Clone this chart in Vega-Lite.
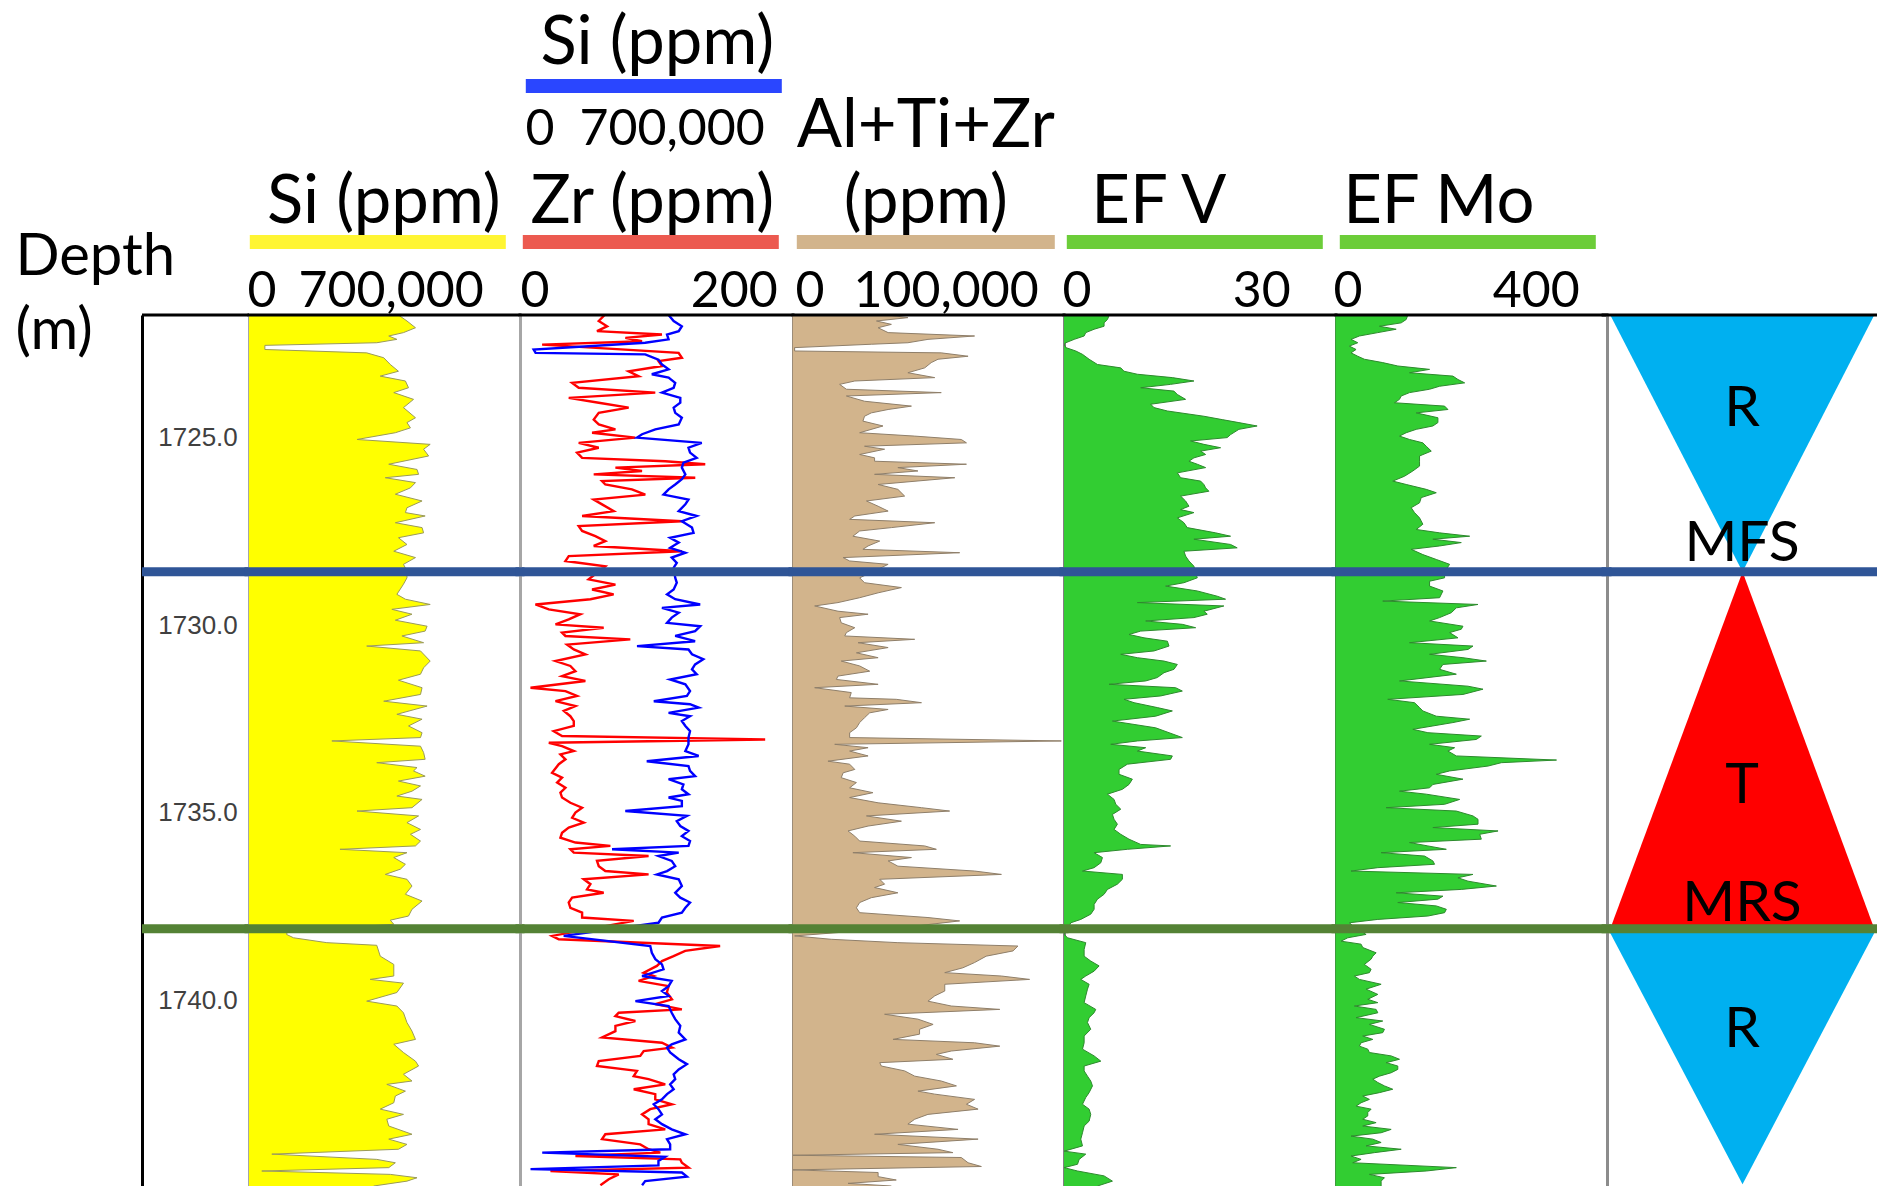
{
"$schema":"https://vega.github.io/schema/vega-lite/v6.json",
"padding":{"left":15,"top":9,"right":0,"bottom":0},
"background":"white",
"config":{"view":{"stroke":null},"font":"Lato","axis":{"labelLimit":0}},
"spacing":0,
"bounds":"flush",
"datasets":{
"si":[{"d":1721.72,"v":386000},{"d":1721.88,"v":408000},{"d":1722.06,"v":430000},{"d":1722.19,"v":399000},{"d":1722.28,"v":361000},{"d":1722.37,"v":382000},{"d":1722.46,"v":330000},{"d":1722.53,"v":41000},{"d":1722.64,"v":41000},{"d":1722.73,"v":304000},{"d":1722.86,"v":348000},{"d":1723.04,"v":365000},{"d":1723.22,"v":386000},{"d":1723.35,"v":339000},{"d":1723.48,"v":404000},{"d":1723.66,"v":412000},{"d":1723.79,"v":374000},{"d":1723.97,"v":425000},{"d":1724.19,"v":399000},{"d":1724.46,"v":430000},{"d":1724.59,"v":408000},{"d":1724.73,"v":417000},{"d":1724.86,"v":378000},{"d":1725.04,"v":279000},{"d":1725.17,"v":468000},{"d":1725.30,"v":451000},{"d":1725.48,"v":464000},{"d":1725.70,"v":361000},{"d":1725.84,"v":434000},{"d":1725.97,"v":438000},{"d":1726.06,"v":352000},{"d":1726.19,"v":430000},{"d":1726.33,"v":417000},{"d":1726.50,"v":378000},{"d":1726.68,"v":447000},{"d":1726.86,"v":408000},{"d":1726.99,"v":404000},{"d":1727.08,"v":455000},{"d":1727.26,"v":378000},{"d":1727.39,"v":447000},{"d":1727.53,"v":451000},{"d":1727.66,"v":386000},{"d":1727.84,"v":408000},{"d":1728.02,"v":374000},{"d":1728.19,"v":430000},{"d":1728.37,"v":399000},{"d":1728.55,"v":408000},{"d":1728.73,"v":408000},{"d":1728.90,"v":399000},{"d":1729.17,"v":382000},{"d":1729.30,"v":404000},{"d":1729.44,"v":468000},{"d":1729.57,"v":369000},{"d":1729.70,"v":421000},{"d":1729.86,"v":378000},{"d":1730.02,"v":460000},{"d":1730.15,"v":455000},{"d":1730.28,"v":395000},{"d":1730.46,"v":451000},{"d":1730.55,"v":304000},{"d":1730.68,"v":443000},{"d":1730.95,"v":468000},{"d":1731.13,"v":451000},{"d":1731.30,"v":443000},{"d":1731.46,"v":386000},{"d":1731.66,"v":447000},{"d":1731.84,"v":443000},{"d":1732.02,"v":348000},{"d":1732.15,"v":460000},{"d":1732.37,"v":382000},{"d":1732.50,"v":447000},{"d":1732.68,"v":412000},{"d":1732.86,"v":447000},{"d":1732.99,"v":443000},{"d":1733.08,"v":214000},{"d":1733.22,"v":443000},{"d":1733.39,"v":451000},{"d":1733.57,"v":455000},{"d":1733.66,"v":330000},{"d":1733.79,"v":434000},{"d":1733.88,"v":425000},{"d":1734.02,"v":455000},{"d":1734.15,"v":386000},{"d":1734.28,"v":443000},{"d":1734.42,"v":421000},{"d":1734.55,"v":382000},{"d":1734.64,"v":447000},{"d":1734.86,"v":421000},{"d":1734.95,"v":279000},{"d":1735.08,"v":438000},{"d":1735.26,"v":408000},{"d":1735.44,"v":443000},{"d":1735.57,"v":417000},{"d":1735.75,"v":443000},{"d":1735.88,"v":430000},{"d":1735.97,"v":235000},{"d":1736.06,"v":408000},{"d":1736.19,"v":374000},{"d":1736.37,"v":404000},{"d":1736.50,"v":391000},{"d":1736.64,"v":352000},{"d":1736.77,"v":408000},{"d":1736.95,"v":421000},{"d":1737.17,"v":404000},{"d":1737.35,"v":447000},{"d":1737.57,"v":421000},{"d":1737.75,"v":412000},{"d":1737.86,"v":365000},{"d":1737.97,"v":374000},{"d":1738.15,"v":100000},{"d":1738.24,"v":97000},{"d":1738.33,"v":115000},{"d":1738.46,"v":201000},{"d":1738.53,"v":330000},{"d":1738.82,"v":339000},{"d":1739.04,"v":374000},{"d":1739.35,"v":374000},{"d":1739.44,"v":313000},{"d":1739.54,"v":399000},{"d":1739.79,"v":382000},{"d":1740.02,"v":304000},{"d":1740.15,"v":382000},{"d":1740.33,"v":399000},{"d":1740.59,"v":408000},{"d":1740.82,"v":421000},{"d":1741.04,"v":430000},{"d":1741.17,"v":374000},{"d":1741.39,"v":399000},{"d":1741.62,"v":430000},{"d":1741.75,"v":438000},{"d":1741.97,"v":399000},{"d":1742.15,"v":421000},{"d":1742.24,"v":356000},{"d":1742.42,"v":404000},{"d":1742.55,"v":378000},{"d":1742.73,"v":374000},{"d":1742.90,"v":339000},{"d":1743.04,"v":399000},{"d":1743.17,"v":356000},{"d":1743.35,"v":361000},{"d":1743.57,"v":421000},{"d":1743.70,"v":361000},{"d":1743.84,"v":408000},{"d":1743.97,"v":386000},{"d":1744.10,"v":59000},{"d":1744.24,"v":330000},{"d":1744.33,"v":378000},{"d":1744.46,"v":361000},{"d":1744.55,"v":33000},{"d":1744.64,"v":365000},{"d":1744.73,"v":434000},{"d":1744.82,"v":408000},{"d":1744.95,"v":322000}],
"zr":[{"d":1721.72,"v":62},{"d":1721.88,"v":57.7},{"d":1722.02,"v":63.8},{"d":1722.15,"v":56.4},{"d":1722.24,"v":104},{"d":1722.33,"v":77.2},{"d":1722.42,"v":89.4},{"d":1722.51,"v":16.2},{"d":1722.73,"v":116.2},{"d":1722.86,"v":118.6},{"d":1722.95,"v":101.5},{"d":1723.08,"v":104},{"d":1723.22,"v":79.6},{"d":1723.35,"v":86.9},{"d":1723.53,"v":38.2},{"d":1723.66,"v":43},{"d":1723.79,"v":99.1},{"d":1723.93,"v":35.7},{"d":1724.06,"v":57.7},{"d":1724.19,"v":79.6},{"d":1724.33,"v":57.7},{"d":1724.51,"v":54},{"d":1724.64,"v":57.7},{"d":1724.77,"v":69.9},{"d":1724.86,"v":52.8},{"d":1724.99,"v":84.5},{"d":1725.13,"v":43},{"d":1725.26,"v":57.7},{"d":1725.39,"v":41.8},{"d":1725.53,"v":45.5},{"d":1725.62,"v":106.4},{"d":1725.70,"v":135.7},{"d":1725.79,"v":69.9},{"d":1725.88,"v":89.4},{"d":1725.97,"v":54},{"d":1726.06,"v":128.4},{"d":1726.15,"v":60.1},{"d":1726.24,"v":62.5},{"d":1726.37,"v":82},{"d":1726.51,"v":91.8},{"d":1726.64,"v":54},{"d":1726.77,"v":60.1},{"d":1726.95,"v":68.6},{"d":1727.08,"v":45.5},{"d":1727.22,"v":118.6},{"d":1727.35,"v":43},{"d":1727.48,"v":45.5},{"d":1727.62,"v":55.2},{"d":1727.75,"v":62.5},{"d":1727.88,"v":54},{"d":1728.02,"v":118.6},{"d":1728.15,"v":35.7},{"d":1728.28,"v":33.3},{"d":1728.42,"v":62.5},{"d":1728.77,"v":50.3},{"d":1728.91,"v":69.9},{"d":1729.04,"v":52.8},{"d":1729.17,"v":68.6},{"d":1729.30,"v":51.6},{"d":1729.44,"v":11.3},{"d":1729.57,"v":21.1},{"d":1729.70,"v":44.2},{"d":1729.84,"v":35.7},{"d":1729.97,"v":26},{"d":1730.06,"v":61.3},{"d":1730.19,"v":30.8},{"d":1730.28,"v":33.3},{"d":1730.37,"v":80.8},{"d":1730.51,"v":34.5},{"d":1730.64,"v":39.4},{"d":1730.77,"v":47.9},{"d":1730.95,"v":26},{"d":1731.08,"v":36.9},{"d":1731.22,"v":40.6},{"d":1731.35,"v":30.8},{"d":1731.48,"v":47.9},{"d":1731.66,"v":7.7},{"d":1731.75,"v":33.3},{"d":1731.88,"v":41.8},{"d":1732.02,"v":26},{"d":1732.15,"v":40.6},{"d":1732.28,"v":32.1},{"d":1732.42,"v":36.9},{"d":1732.55,"v":39.4},{"d":1732.68,"v":39.4},{"d":1732.82,"v":24.7},{"d":1732.95,"v":30.8},{"d":1733.04,"v":179.6},{"d":1733.13,"v":21.1},{"d":1733.22,"v":30.8},{"d":1733.35,"v":39.4},{"d":1733.44,"v":29.6},{"d":1733.57,"v":33.3},{"d":1733.70,"v":28.4},{"d":1733.93,"v":23.5},{"d":1734.06,"v":30.8},{"d":1734.19,"v":27.2},{"d":1734.33,"v":33.3},{"d":1734.46,"v":29.6},{"d":1734.59,"v":30.8},{"d":1734.73,"v":36.9},{"d":1734.86,"v":45.5},{"d":1734.99,"v":40.6},{"d":1735.13,"v":38.2},{"d":1735.26,"v":46.7},{"d":1735.39,"v":35.7},{"d":1735.53,"v":30.8},{"d":1735.66,"v":29.6},{"d":1735.79,"v":40.6},{"d":1735.88,"v":66.2},{"d":1735.97,"v":36.9},{"d":1736.06,"v":39.4},{"d":1736.15,"v":94.2},{"d":1736.28,"v":56.4},{"d":1736.42,"v":57.7},{"d":1736.55,"v":62.5},{"d":1736.64,"v":94.2},{"d":1736.77,"v":46.7},{"d":1736.90,"v":51.6},{"d":1737.04,"v":49.1},{"d":1737.13,"v":61.3},{"d":1737.26,"v":38.2},{"d":1737.39,"v":35.7},{"d":1737.53,"v":36.9},{"d":1737.66,"v":45.5},{"d":1737.79,"v":45.5},{"d":1737.88,"v":83.3},{"d":1738.28,"v":23.5},{"d":1738.37,"v":28.4},{"d":1738.55,"v":146.6},{"d":1738.68,"v":121},{"d":1738.82,"v":112.5},{"d":1738.95,"v":104},{"d":1739.08,"v":100.3},{"d":1739.26,"v":90.6},{"d":1739.35,"v":97.9},{"d":1739.48,"v":86.9},{"d":1739.62,"v":108.9},{"d":1739.79,"v":107.6},{"d":1739.97,"v":111.3},{"d":1740.10,"v":99.1},{"d":1740.24,"v":118.6},{"d":1740.33,"v":72.3},{"d":1740.42,"v":69.9},{"d":1740.55,"v":84.5},{"d":1740.68,"v":69.9},{"d":1740.82,"v":69.9},{"d":1740.99,"v":60.1},{"d":1741.13,"v":104},{"d":1741.26,"v":111.3},{"d":1741.35,"v":90.6},{"d":1741.48,"v":88.1},{"d":1741.62,"v":57.7},{"d":1741.75,"v":56.4},{"d":1741.88,"v":85.7},{"d":1742.02,"v":83.3},{"d":1742.10,"v":94.2},{"d":1742.24,"v":106.4},{"d":1742.37,"v":83.3},{"d":1742.50,"v":99.1},{"d":1742.64,"v":99.1},{"d":1742.77,"v":111.3},{"d":1742.90,"v":95.4},{"d":1743.04,"v":89.4},{"d":1743.17,"v":94.2},{"d":1743.30,"v":94.2},{"d":1743.44,"v":106.4},{"d":1743.57,"v":62.5},{"d":1743.70,"v":60.1},{"d":1743.84,"v":88.1},{"d":1743.97,"v":94.2},{"d":1744.06,"v":102.8},{"d":1744.15,"v":40.6},{"d":1744.24,"v":117.4},{"d":1744.33,"v":118.6},{"d":1744.46,"v":123.5},{"d":1744.55,"v":22.3},{"d":1744.64,"v":72.3},{"d":1744.77,"v":65},{"d":1744.93,"v":58.9}],
"si2":[{"d":1721.72,"v":381000},{"d":1721.88,"v":394000},{"d":1722.02,"v":415000},{"d":1722.15,"v":407000},{"d":1722.24,"v":377000},{"d":1722.37,"v":381000},{"d":1722.46,"v":321000},{"d":1722.64,"v":35000},{"d":1722.73,"v":40000},{"d":1722.77,"v":321000},{"d":1722.91,"v":355000},{"d":1723.04,"v":364000},{"d":1723.17,"v":381000},{"d":1723.30,"v":338000},{"d":1723.39,"v":381000},{"d":1723.53,"v":398000},{"d":1723.66,"v":394000},{"d":1723.79,"v":364000},{"d":1723.93,"v":411000},{"d":1724.06,"v":411000},{"d":1724.19,"v":394000},{"d":1724.33,"v":398000},{"d":1724.46,"v":415000},{"d":1724.64,"v":407000},{"d":1724.77,"v":347000},{"d":1724.90,"v":313000},{"d":1724.99,"v":300000},{"d":1725.13,"v":466000},{"d":1725.26,"v":432000},{"d":1725.39,"v":436000},{"d":1725.53,"v":453000},{"d":1725.66,"v":419000},{"d":1725.79,"v":415000},{"d":1725.97,"v":424000},{"d":1726.10,"v":415000},{"d":1726.24,"v":398000},{"d":1726.37,"v":381000},{"d":1726.51,"v":368000},{"d":1726.64,"v":432000},{"d":1726.77,"v":424000},{"d":1726.95,"v":407000},{"d":1727.08,"v":453000},{"d":1727.22,"v":415000},{"d":1727.39,"v":441000},{"d":1727.53,"v":445000},{"d":1727.66,"v":385000},{"d":1727.79,"v":407000},{"d":1727.93,"v":385000},{"d":1728.06,"v":424000},{"d":1728.19,"v":389000},{"d":1728.33,"v":402000},{"d":1728.46,"v":394000},{"d":1728.73,"v":398000},{"d":1728.86,"v":402000},{"d":1729.04,"v":394000},{"d":1729.17,"v":377000},{"d":1729.30,"v":398000},{"d":1729.44,"v":462000},{"d":1729.53,"v":364000},{"d":1729.66,"v":407000},{"d":1729.79,"v":389000},{"d":1729.93,"v":377000},{"d":1730.02,"v":462000},{"d":1730.15,"v":449000},{"d":1730.28,"v":398000},{"d":1730.42,"v":449000},{"d":1730.55,"v":300000},{"d":1730.64,"v":432000},{"d":1730.77,"v":441000},{"d":1730.90,"v":470000},{"d":1731.04,"v":449000},{"d":1731.17,"v":441000},{"d":1731.30,"v":453000},{"d":1731.44,"v":385000},{"d":1731.57,"v":424000},{"d":1731.75,"v":436000},{"d":1731.88,"v":428000},{"d":1732.02,"v":343000},{"d":1732.10,"v":436000},{"d":1732.19,"v":458000},{"d":1732.33,"v":381000},{"d":1732.42,"v":436000},{"d":1732.55,"v":415000},{"d":1732.68,"v":424000},{"d":1732.82,"v":436000},{"d":1732.99,"v":432000},{"d":1733.17,"v":432000},{"d":1733.35,"v":424000},{"d":1733.48,"v":458000},{"d":1733.62,"v":325000},{"d":1733.75,"v":432000},{"d":1733.88,"v":436000},{"d":1734.02,"v":449000},{"d":1734.10,"v":381000},{"d":1734.24,"v":419000},{"d":1734.37,"v":415000},{"d":1734.50,"v":432000},{"d":1734.59,"v":381000},{"d":1734.68,"v":415000},{"d":1734.82,"v":415000},{"d":1734.95,"v":270000},{"d":1735.08,"v":428000},{"d":1735.22,"v":402000},{"d":1735.35,"v":411000},{"d":1735.48,"v":432000},{"d":1735.62,"v":415000},{"d":1735.75,"v":436000},{"d":1735.88,"v":432000},{"d":1735.97,"v":236000},{"d":1736.06,"v":407000},{"d":1736.15,"v":355000},{"d":1736.28,"v":389000},{"d":1736.42,"v":398000},{"d":1736.55,"v":377000},{"d":1736.64,"v":351000},{"d":1736.77,"v":407000},{"d":1736.95,"v":415000},{"d":1737.13,"v":398000},{"d":1737.26,"v":411000},{"d":1737.39,"v":436000},{"d":1737.53,"v":424000},{"d":1737.66,"v":415000},{"d":1737.79,"v":364000},{"d":1737.93,"v":355000},{"d":1738.28,"v":112000},{"d":1738.55,"v":334000},{"d":1738.73,"v":338000},{"d":1738.90,"v":347000},{"d":1739.04,"v":364000},{"d":1739.17,"v":368000},{"d":1739.35,"v":313000},{"d":1739.48,"v":389000},{"d":1739.62,"v":381000},{"d":1739.75,"v":364000},{"d":1739.88,"v":381000},{"d":1740.02,"v":296000},{"d":1740.15,"v":381000},{"d":1740.33,"v":389000},{"d":1740.50,"v":398000},{"d":1740.68,"v":411000},{"d":1740.86,"v":407000},{"d":1741.04,"v":424000},{"d":1741.17,"v":389000},{"d":1741.26,"v":377000},{"d":1741.39,"v":385000},{"d":1741.57,"v":407000},{"d":1741.70,"v":428000},{"d":1741.84,"v":407000},{"d":1741.97,"v":394000},{"d":1742.10,"v":398000},{"d":1742.24,"v":385000},{"d":1742.37,"v":394000},{"d":1742.50,"v":377000},{"d":1742.64,"v":364000},{"d":1742.77,"v":343000},{"d":1742.90,"v":355000},{"d":1743.04,"v":364000},{"d":1743.17,"v":347000},{"d":1743.30,"v":364000},{"d":1743.44,"v":389000},{"d":1743.57,"v":424000},{"d":1743.70,"v":377000},{"d":1743.84,"v":385000},{"d":1743.97,"v":385000},{"d":1744.06,"v":57000},{"d":1744.17,"v":372000},{"d":1744.28,"v":355000},{"d":1744.40,"v":355000},{"d":1744.50,"v":27000},{"d":1744.59,"v":415000},{"d":1744.70,"v":428000},{"d":1744.82,"v":321000},{"d":1744.93,"v":313000}],
"al":[{"d":1721.72,"v":35100},{"d":1721.79,"v":42400},{"d":1721.88,"v":30800},{"d":1721.97,"v":36300},{"d":1722.06,"v":31400},{"d":1722.19,"v":35100},{"d":1722.28,"v":67000},{"d":1722.37,"v":49800},{"d":1722.46,"v":42400},{"d":1722.50,"v":28900},{"d":1722.59,"v":600},{"d":1722.68,"v":600},{"d":1722.73,"v":54700},{"d":1722.82,"v":64600},{"d":1722.90,"v":53500},{"d":1722.99,"v":51000},{"d":1723.13,"v":48600},{"d":1723.26,"v":42400},{"d":1723.39,"v":52300},{"d":1723.48,"v":22800},{"d":1723.57,"v":17200},{"d":1723.70,"v":19700},{"d":1723.79,"v":54700},{"d":1723.88,"v":19700},{"d":1724.02,"v":26400},{"d":1724.15,"v":43700},{"d":1724.24,"v":35100},{"d":1724.33,"v":28900},{"d":1724.42,"v":26400},{"d":1724.55,"v":25800},{"d":1724.68,"v":33200},{"d":1724.86,"v":24600},{"d":1724.95,"v":44900},{"d":1725.04,"v":62100},{"d":1725.13,"v":64000},{"d":1725.22,"v":26400},{"d":1725.30,"v":33800},{"d":1725.44,"v":24600},{"d":1725.53,"v":30100},{"d":1725.62,"v":30100},{"d":1725.70,"v":64000},{"d":1725.79,"v":38700},{"d":1725.88,"v":46100},{"d":1725.97,"v":30100},{"d":1726.06,"v":59700},{"d":1726.24,"v":31400},{"d":1726.37,"v":38700},{"d":1726.55,"v":41200},{"d":1726.68,"v":27100},{"d":1726.82,"v":31400},{"d":1726.95,"v":35100},{"d":1727.08,"v":22800},{"d":1727.17,"v":20900},{"d":1727.26,"v":52300},{"d":1727.39,"v":36300},{"d":1727.48,"v":24600},{"d":1727.62,"v":22100},{"d":1727.75,"v":32000},{"d":1727.88,"v":27700},{"d":1727.97,"v":25800},{"d":1728.06,"v":61500},{"d":1728.19,"v":18500},{"d":1728.28,"v":20900},{"d":1728.37,"v":35100},{"d":1728.55,"v":30000},{"d":1728.73,"v":24600},{"d":1728.86,"v":26400},{"d":1728.99,"v":40000},{"d":1729.13,"v":31400},{"d":1729.26,"v":24600},{"d":1729.39,"v":16600},{"d":1729.48,"v":8000},{"d":1729.62,"v":16600},{"d":1729.70,"v":27700},{"d":1729.79,"v":17200},{"d":1729.93,"v":17800},{"d":1730.06,"v":22800},{"d":1730.19,"v":19700},{"d":1730.28,"v":19100},{"d":1730.37,"v":44900},{"d":1730.46,"v":24000},{"d":1730.59,"v":35100},{"d":1730.73,"v":23400},{"d":1730.86,"v":31400},{"d":1730.95,"v":17800},{"d":1731.08,"v":24600},{"d":1731.22,"v":28300},{"d":1731.35,"v":16600},{"d":1731.44,"v":16000},{"d":1731.57,"v":31400},{"d":1731.66,"v":8000},{"d":1731.79,"v":21500},{"d":1731.93,"v":20900},{"d":1731.97,"v":38100},{"d":1732.06,"v":47400},{"d":1732.15,"v":19100},{"d":1732.24,"v":35100},{"d":1732.33,"v":28300},{"d":1732.46,"v":26400},{"d":1732.59,"v":24600},{"d":1732.73,"v":23400},{"d":1732.86,"v":20900},{"d":1732.99,"v":20900},{"d":1733.08,"v":99000},{"d":1733.17,"v":15400},{"d":1733.26,"v":27700},{"d":1733.35,"v":20900},{"d":1733.48,"v":27700},{"d":1733.62,"v":12900},{"d":1733.70,"v":20900},{"d":1733.84,"v":22800},{"d":1733.93,"v":18500},{"d":1734.06,"v":17800},{"d":1734.19,"v":23400},{"d":1734.33,"v":20900},{"d":1734.46,"v":29500},{"d":1734.59,"v":20900},{"d":1734.73,"v":31400},{"d":1734.86,"v":47400},{"d":1734.95,"v":57800},{"d":1735.08,"v":27100},{"d":1735.22,"v":40000},{"d":1735.35,"v":27700},{"d":1735.48,"v":20300},{"d":1735.62,"v":22800},{"d":1735.75,"v":24600},{"d":1735.88,"v":48600},{"d":1735.97,"v":52900},{"d":1736.06,"v":22100},{"d":1736.19,"v":43700},{"d":1736.28,"v":35100},{"d":1736.42,"v":38700},{"d":1736.55,"v":67000},{"d":1736.64,"v":76900},{"d":1736.77,"v":32000},{"d":1736.90,"v":33800},{"d":1736.99,"v":30100},{"d":1737.13,"v":38700},{"d":1737.26,"v":28900},{"d":1737.39,"v":24600},{"d":1737.53,"v":23400},{"d":1737.66,"v":24600},{"d":1737.79,"v":49800},{"d":1737.88,"v":61500},{"d":1738.06,"v":40000},{"d":1738.28,"v":600},{"d":1738.37,"v":14100},{"d":1738.46,"v":38700},{"d":1738.55,"v":83000},{"d":1738.68,"v":81200},{"d":1738.82,"v":71300},{"d":1738.99,"v":67000},{"d":1739.13,"v":62700},{"d":1739.26,"v":56000},{"d":1739.35,"v":76900},{"d":1739.44,"v":87300},{"d":1739.57,"v":56000},{"d":1739.75,"v":56000},{"d":1739.88,"v":52300},{"d":1740.02,"v":49800},{"d":1740.15,"v":58400},{"d":1740.24,"v":76300},{"d":1740.37,"v":33800},{"d":1740.50,"v":46100},{"d":1740.64,"v":51700},{"d":1740.77,"v":46700},{"d":1740.90,"v":46700},{"d":1741.04,"v":36900},{"d":1741.13,"v":67000},{"d":1741.22,"v":76300},{"d":1741.35,"v":58400},{"d":1741.44,"v":52900},{"d":1741.57,"v":59000},{"d":1741.66,"v":32000},{"d":1741.75,"v":32600},{"d":1741.88,"v":41200},{"d":1742.02,"v":44900},{"d":1742.15,"v":54700},{"d":1742.28,"v":60300},{"d":1742.42,"v":46100},{"d":1742.50,"v":52300},{"d":1742.64,"v":67000},{"d":1742.77,"v":64000},{"d":1742.90,"v":68300},{"d":1743.04,"v":49800},{"d":1743.17,"v":44900},{"d":1743.30,"v":42400},{"d":1743.44,"v":60900},{"d":1743.57,"v":30100},{"d":1743.70,"v":68300},{"d":1743.84,"v":38700},{"d":1743.97,"v":53500},{"d":1744.06,"v":59000},{"d":1744.13,"v":0},{"d":1744.19,"v":62100},{"d":1744.33,"v":64600},{"d":1744.43,"v":69500},{"d":1744.52,"v":0},{"d":1744.59,"v":31400},{"d":1744.70,"v":31400},{"d":1744.79,"v":38100},{"d":1744.88,"v":20300},{"d":1744.95,"v":36300}],
"efv":[{"d":1721.72,"v":5.0},{"d":1721.84,"v":4.79},{"d":1721.93,"v":4.42},{"d":1722.02,"v":4.42},{"d":1722.10,"v":3.32},{"d":1722.19,"v":2.4},{"d":1722.28,"v":2.22},{"d":1722.37,"v":1.12},{"d":1722.46,"v":0.2},{"d":1722.50,"v":0.02},{"d":1722.59,"v":0.2},{"d":1722.68,"v":1.3},{"d":1722.77,"v":2.04},{"d":1722.90,"v":2.77},{"d":1723.04,"v":3.69},{"d":1723.13,"v":6.26},{"d":1723.22,"v":6.62},{"d":1723.30,"v":8.09},{"d":1723.39,"v":11.95},{"d":1723.48,"v":14.33},{"d":1723.57,"v":11.76},{"d":1723.66,"v":8.46},{"d":1723.75,"v":12.13},{"d":1723.84,"v":12.5},{"d":1723.97,"v":13.41},{"d":1724.10,"v":9.56},{"d":1724.19,"v":9.93},{"d":1724.28,"v":11.4},{"d":1724.42,"v":15.43},{"d":1724.51,"v":17.45},{"d":1724.59,"v":19.29},{"d":1724.68,"v":21.3},{"d":1724.77,"v":19.29},{"d":1724.91,"v":18.37},{"d":1724.99,"v":18.0},{"d":1725.08,"v":13.96},{"d":1725.17,"v":15.43},{"d":1725.26,"v":17.27},{"d":1725.35,"v":15.07},{"d":1725.44,"v":15.62},{"d":1725.53,"v":14.33},{"d":1725.62,"v":13.78},{"d":1725.70,"v":14.7},{"d":1725.79,"v":15.62},{"d":1725.93,"v":12.5},{"d":1726.06,"v":12.86},{"d":1726.15,"v":15.07},{"d":1726.24,"v":15.43},{"d":1726.33,"v":15.62},{"d":1726.42,"v":15.98},{"d":1726.55,"v":12.86},{"d":1726.68,"v":13.41},{"d":1726.82,"v":13.78},{"d":1726.91,"v":12.86},{"d":1726.99,"v":14.33},{"d":1727.13,"v":12.5},{"d":1727.26,"v":13.23},{"d":1727.39,"v":13.59},{"d":1727.53,"v":16.72},{"d":1727.62,"v":18.37},{"d":1727.70,"v":14.33},{"d":1727.84,"v":18.37},{"d":1727.93,"v":19.1},{"d":1728.02,"v":13.23},{"d":1728.15,"v":13.41},{"d":1728.28,"v":13.78},{"d":1728.42,"v":14.33},{"d":1728.58,"v":14.5},{"d":1728.73,"v":14.7},{"d":1728.86,"v":13.23},{"d":1728.95,"v":11.21},{"d":1729.08,"v":14.7},{"d":1729.22,"v":16.9},{"d":1729.30,"v":17.82},{"d":1729.39,"v":8.09},{"d":1729.48,"v":17.63},{"d":1729.62,"v":15.43},{"d":1729.70,"v":15.8},{"d":1729.79,"v":14.33},{"d":1729.88,"v":9.01},{"d":1729.97,"v":13.05},{"d":1730.06,"v":14.52},{"d":1730.15,"v":8.46},{"d":1730.24,"v":7.17},{"d":1730.33,"v":8.83},{"d":1730.42,"v":11.4},{"d":1730.55,"v":11.58},{"d":1730.68,"v":9.93},{"d":1730.77,"v":6.26},{"d":1730.86,"v":8.09},{"d":1730.95,"v":11.03},{"d":1731.04,"v":12.5},{"d":1731.17,"v":12.13},{"d":1731.26,"v":11.03},{"d":1731.39,"v":10.29},{"d":1731.48,"v":9.01},{"d":1731.57,"v":4.97},{"d":1731.66,"v":12.31},{"d":1731.75,"v":13.05},{"d":1731.88,"v":10.66},{"d":1731.97,"v":6.62},{"d":1732.06,"v":7.73},{"d":1732.19,"v":10.29},{"d":1732.28,"v":11.95},{"d":1732.42,"v":10.11},{"d":1732.55,"v":5.34},{"d":1732.64,"v":7.73},{"d":1732.73,"v":10.11},{"d":1732.86,"v":11.58},{"d":1732.99,"v":13.05},{"d":1733.08,"v":8.09},{"d":1733.17,"v":5.16},{"d":1733.26,"v":9.01},{"d":1733.35,"v":8.09},{"d":1733.48,"v":11.95},{"d":1733.57,"v":11.76},{"d":1733.70,"v":6.99},{"d":1733.84,"v":6.07},{"d":1733.97,"v":6.07},{"d":1734.10,"v":7.54},{"d":1734.24,"v":7.17},{"d":1734.37,"v":6.44},{"d":1734.50,"v":4.79},{"d":1734.64,"v":5.52},{"d":1734.77,"v":5.71},{"d":1734.90,"v":6.26},{"d":1735.04,"v":5.34},{"d":1735.17,"v":5.52},{"d":1735.30,"v":5.89},{"d":1735.44,"v":5.52},{"d":1735.57,"v":6.26},{"d":1735.70,"v":7.17},{"d":1735.84,"v":8.46},{"d":1735.88,"v":11.76},{"d":1735.97,"v":6.99},{"d":1736.06,"v":3.32},{"d":1736.19,"v":4.24},{"d":1736.33,"v":4.06},{"d":1736.46,"v":3.32},{"d":1736.55,"v":2.04},{"d":1736.64,"v":6.44},{"d":1736.77,"v":6.44},{"d":1736.90,"v":5.89},{"d":1737.04,"v":4.79},{"d":1737.17,"v":4.42},{"d":1737.30,"v":3.69},{"d":1737.44,"v":3.32},{"d":1737.57,"v":3.32},{"d":1737.70,"v":2.95},{"d":1737.84,"v":1.85},{"d":1737.93,"v":0.75},{"d":1738.09,"v":0.4},{"d":1738.24,"v":0.02},{"d":1738.33,"v":0.39},{"d":1738.46,"v":2.4},{"d":1738.64,"v":2.22},{"d":1738.82,"v":2.22},{"d":1738.95,"v":2.95},{"d":1739.08,"v":3.87},{"d":1739.22,"v":3.32},{"d":1739.35,"v":2.4},{"d":1739.44,"v":1.85},{"d":1739.57,"v":2.77},{"d":1739.70,"v":2.59},{"d":1739.88,"v":2.4},{"d":1740.06,"v":2.22},{"d":1740.24,"v":3.5},{"d":1740.33,"v":3.32},{"d":1740.46,"v":2.77},{"d":1740.59,"v":2.59},{"d":1740.77,"v":2.95},{"d":1740.95,"v":2.22},{"d":1741.13,"v":2.22},{"d":1741.30,"v":2.04},{"d":1741.48,"v":3.32},{"d":1741.62,"v":4.06},{"d":1741.75,"v":2.22},{"d":1741.88,"v":2.22},{"d":1742.02,"v":2.59},{"d":1742.15,"v":2.95},{"d":1742.28,"v":3.14},{"d":1742.46,"v":2.77},{"d":1742.59,"v":2.4},{"d":1742.77,"v":2.04},{"d":1742.90,"v":2.77},{"d":1743.04,"v":2.95},{"d":1743.22,"v":2.77},{"d":1743.35,"v":2.22},{"d":1743.53,"v":2.04},{"d":1743.70,"v":1.85},{"d":1743.88,"v":2.04},{"d":1744.02,"v":0.02},{"d":1744.10,"v":2.4},{"d":1744.24,"v":1.67},{"d":1744.37,"v":1.49},{"d":1744.46,"v":0.02},{"d":1744.55,"v":1.49},{"d":1744.68,"v":4.42},{"d":1744.82,"v":5.34},{"d":1744.95,"v":3.69}],
"efmo":[{"d":1721.72,"v":106},{"d":1721.84,"v":103.6},{"d":1721.93,"v":96.2},{"d":1722.02,"v":64.1},{"d":1722.10,"v":88.8},{"d":1722.19,"v":61.7},{"d":1722.28,"v":34.5},{"d":1722.37,"v":22.2},{"d":1722.46,"v":32.1},{"d":1722.55,"v":19.7},{"d":1722.64,"v":29.6},{"d":1722.73,"v":22.2},{"d":1722.82,"v":32.1},{"d":1722.90,"v":41.9},{"d":1722.99,"v":69},{"d":1723.08,"v":91.2},{"d":1723.17,"v":138.1},{"d":1723.26,"v":108.5},{"d":1723.35,"v":172.6},{"d":1723.44,"v":180},{"d":1723.53,"v":189.9},{"d":1723.62,"v":152.9},{"d":1723.70,"v":138.1},{"d":1723.79,"v":108.5},{"d":1723.88,"v":96.2},{"d":1723.97,"v":93.7},{"d":1724.06,"v":86.3},{"d":1724.15,"v":160.3},{"d":1724.24,"v":165.2},{"d":1724.33,"v":118.4},{"d":1724.46,"v":150.4},{"d":1724.59,"v":150.4},{"d":1724.68,"v":143},{"d":1724.77,"v":118.4},{"d":1724.86,"v":103.6},{"d":1724.95,"v":93.7},{"d":1725.04,"v":108.5},{"d":1725.13,"v":128.2},{"d":1725.22,"v":133.2},{"d":1725.35,"v":140.6},{"d":1725.48,"v":123.3},{"d":1725.62,"v":123.3},{"d":1725.75,"v":123.3},{"d":1725.88,"v":113.4},{"d":1726.02,"v":101.1},{"d":1726.15,"v":83.8},{"d":1726.24,"v":103.6},{"d":1726.37,"v":133.2},{"d":1726.46,"v":148},{"d":1726.59,"v":125.8},{"d":1726.73,"v":123.3},{"d":1726.86,"v":111},{"d":1726.99,"v":115.9},{"d":1727.13,"v":123.3},{"d":1727.30,"v":128.2},{"d":1727.44,"v":118.4},{"d":1727.53,"v":152.9},{"d":1727.62,"v":197.3},{"d":1727.70,"v":143},{"d":1727.79,"v":184.9},{"d":1727.88,"v":152.9},{"d":1727.97,"v":111},{"d":1728.11,"v":128.2},{"d":1728.24,"v":148},{"d":1728.37,"v":167.7},{"d":1728.58,"v":160},{"d":1728.73,"v":160.3},{"d":1728.82,"v":138.1},{"d":1728.95,"v":138.1},{"d":1729.08,"v":157.8},{"d":1729.26,"v":152.9},{"d":1729.35,"v":69},{"d":1729.44,"v":209.6},{"d":1729.53,"v":177.6},{"d":1729.66,"v":170.2},{"d":1729.79,"v":152.9},{"d":1729.88,"v":138.1},{"d":1730.02,"v":187.4},{"d":1730.10,"v":184.9},{"d":1730.19,"v":167.7},{"d":1730.33,"v":180},{"d":1730.46,"v":108.5},{"d":1730.55,"v":202.2},{"d":1730.64,"v":194.8},{"d":1730.77,"v":138.1},{"d":1730.86,"v":187.4},{"d":1730.95,"v":221.9},{"d":1731.04,"v":157.8},{"d":1731.17,"v":152.9},{"d":1731.30,"v":177.6},{"d":1731.48,"v":93.7},{"d":1731.62,"v":194.8},{"d":1731.70,"v":217},{"d":1731.84,"v":187.4},{"d":1731.97,"v":76.4},{"d":1732.06,"v":115.9},{"d":1732.19,"v":123.3},{"d":1732.28,"v":128.2},{"d":1732.42,"v":148},{"d":1732.50,"v":197.3},{"d":1732.59,"v":172.6},{"d":1732.68,"v":143},{"d":1732.77,"v":113.4},{"d":1732.86,"v":135.6},{"d":1732.95,"v":214.5},{"d":1733.04,"v":207.1},{"d":1733.17,"v":138.1},{"d":1733.26,"v":175.1},{"d":1733.35,"v":165.2},{"d":1733.48,"v":177.6},{"d":1733.59,"v":325.5},{"d":1733.66,"v":244.1},{"d":1733.75,"v":224.4},{"d":1733.88,"v":167.7},{"d":1733.97,"v":148},{"d":1734.10,"v":187.4},{"d":1734.24,"v":143},{"d":1734.33,"v":138.1},{"d":1734.42,"v":93.7},{"d":1734.50,"v":133.2},{"d":1734.64,"v":182.5},{"d":1734.77,"v":160.3},{"d":1734.86,"v":74},{"d":1734.95,"v":177.6},{"d":1735.08,"v":202.2},{"d":1735.17,"v":209.6},{"d":1735.30,"v":209.6},{"d":1735.39,"v":143},{"d":1735.48,"v":239.2},{"d":1735.57,"v":212.1},{"d":1735.70,"v":214.5},{"d":1735.79,"v":108.5},{"d":1735.88,"v":135.6},{"d":1735.97,"v":162.8},{"d":1736.06,"v":66.6},{"d":1736.15,"v":130.7},{"d":1736.28,"v":143},{"d":1736.37,"v":145.5},{"d":1736.46,"v":61.7},{"d":1736.55,"v":22.2},{"d":1736.64,"v":202.2},{"d":1736.73,"v":180},{"d":1736.82,"v":194.8},{"d":1736.95,"v":236.7},{"d":1737.04,"v":184.9},{"d":1737.13,"v":88.8},{"d":1737.22,"v":157.8},{"d":1737.30,"v":150.4},{"d":1737.39,"v":91.2},{"d":1737.48,"v":148},{"d":1737.57,"v":162.8},{"d":1737.66,"v":160.3},{"d":1737.75,"v":135.6},{"d":1737.84,"v":61.7},{"d":1737.93,"v":19.7},{"d":1738.09,"v":30},{"d":1738.24,"v":44.4},{"d":1738.33,"v":17.3},{"d":1738.42,"v":7.4},{"d":1738.50,"v":37},{"d":1738.59,"v":39.5},{"d":1738.73,"v":59.2},{"d":1738.82,"v":54.3},{"d":1738.90,"v":51.8},{"d":1739.04,"v":41.9},{"d":1739.17,"v":51.8},{"d":1739.26,"v":49.3},{"d":1739.35,"v":27.1},{"d":1739.44,"v":34.5},{"d":1739.57,"v":66.6},{"d":1739.70,"v":44.4},{"d":1739.84,"v":61.7},{"d":1739.97,"v":46.9},{"d":1740.06,"v":61.7},{"d":1740.15,"v":27.1},{"d":1740.24,"v":59.2},{"d":1740.33,"v":61.7},{"d":1740.46,"v":29.6},{"d":1740.55,"v":69},{"d":1740.64,"v":49.3},{"d":1740.77,"v":71.5},{"d":1740.86,"v":69},{"d":1740.95,"v":39.5},{"d":1741.04,"v":54.3},{"d":1741.13,"v":37},{"d":1741.22,"v":34.5},{"d":1741.30,"v":46.9},{"d":1741.39,"v":49.3},{"d":1741.48,"v":81.4},{"d":1741.57,"v":93.7},{"d":1741.66,"v":74},{"d":1741.75,"v":91.2},{"d":1741.84,"v":91.2},{"d":1741.93,"v":81.4},{"d":1742.02,"v":64.1},{"d":1742.10,"v":54.3},{"d":1742.19,"v":61.7},{"d":1742.28,"v":71.5},{"d":1742.37,"v":83.8},{"d":1742.46,"v":64.1},{"d":1742.55,"v":39.5},{"d":1742.64,"v":49.3},{"d":1742.73,"v":37},{"d":1742.82,"v":29.6},{"d":1742.90,"v":51.8},{"d":1742.99,"v":46.9},{"d":1743.08,"v":46.9},{"d":1743.17,"v":39.5},{"d":1743.26,"v":59.2},{"d":1743.35,"v":39.5},{"d":1743.44,"v":81.4},{"d":1743.53,"v":66.6},{"d":1743.62,"v":22.2},{"d":1743.70,"v":54.3},{"d":1743.79,"v":66.6},{"d":1743.88,"v":44.4},{"d":1743.97,"v":96.2},{"d":1744.06,"v":56.7},{"d":1744.15,"v":22.2},{"d":1744.24,"v":37},{"d":1744.33,"v":24.7},{"d":1744.46,"v":177.6},{"d":1744.55,"v":133.2},{"d":1744.64,"v":49.3},{"d":1744.73,"v":71.5},{"d":1744.82,"v":66.6},{"d":1744.95,"v":66.6}],
"tri":[{"tri":"R1","type":"R","d":1721.72,"a":0.012,"b":0.99},{"tri":"R1","type":"R","d":1728.57,"a":0.502,"b":0.502},{"tri":"T","type":"T","d":1728.57,"a":0.502,"b":0.502},{"tri":"T","type":"T","d":1738.09,"a":0.012,"b":0.99},{"tri":"R2","type":"R","d":1738.2,"a":0.012,"b":0.99},{"tri":"R2","type":"R","d":1744.9,"a":0.502,"b":0.502}],
"seqtext":[{"t":"R","d":1724.68},{"t":"MFS","d":1728.29},{"t":"T","d":1734.73},{"t":"MRS","d":1737.88},{"t":"R","d":1741.23}]
},
"hconcat":[
{"width":107,"height":871,"layer":[
 {"data":{"values":[{}]},"mark":{"type":"rule","color":"black","strokeWidth":3},"encoding":{"y":{"datum":1721.72,"type":"quantitative","scale":{"domain":[1721.72,1744.95],"reverse":true,"nice":false,"zero":false},"axis":{"orient":"left","values":[1725,1730,1735,1740],"format":".1f","domain":true,"domainColor":"black","domainWidth":3,"ticks":false,"tickSize":0,"grid":false,"labelFont":"Liberation Sans","labelFontSize":26,"labelColor":"#404040","labelAlign":"right","labelBaseline":"middle","labelPadding":-95.3,"labelBound":false,"labelOverlap":false,"labelFlush":false,"title":["Depth","(m)"],"titleFont":"Lato","titleFontSize":58,"titleFontWeight":"normal","titleColor":"black","titleAngle":0,"titleAlign":"left","titleBaseline":"alphabetic","titleX":-127,"titleY":-41,"titleLineHeight":74}}}},
 {"data":{"values":[{}]},"mark":{"type":"rule","color":"#2F5597","strokeWidth":9},"encoding":{"y":{"datum":1728.57,"type":"quantitative"}}},
 {"data":{"values":[{}]},"mark":{"type":"rule","color":"#548235","strokeWidth":9},"encoding":{"y":{"datum":1738.09,"type":"quantitative"}}}
]},
{"width":271,"height":871,"layer":[
 {"data":{"name":"si"},"mark":{"type":"area","orient":"horizontal","color":"#FFFF00","clip":true},"encoding":{"y":{"field":"d","type":"quantitative","scale":{"domain":[1721.72,1744.95],"reverse":true,"nice":false,"zero":false},"axis":{"orient":"left","domain":true,"domainColor":"#a6a6a6","domainWidth":3,"labels":false,"ticks":false,"grid":false,"title":null}},"x":{"field":"v","type":"quantitative","stack":null,"scale":{"domain":[0,700000],"nice":false,"zero":true},"axis":{"orient":"top","offset":73.5,"values":[0,700000],"format":",.0f","domain":true,"domainColor":"#FFF533","domainWidth":14,"domainDash":[256,2000],"domainDashOffset":2255.7,"ticks":false,"tickSize":0,"grid":false,"labelFont":"Lato","labelFontSize":50,"labelLimit":0,"labelColor":"black","labelBaseline":"alphabetic","labelPadding":-64.5,"labelFlush":false,"labelOverlap":false,"labelBound":false,"labelAlign":{"condition":{"test":"datum.value == 0","value":"left"},"value":"right"},"labelOffset":{"condition":{"test":"datum.value == 0","value":-2},"value":-36.7},"title":"Si (ppm)","titleFont":"Lato","titleFontSize":67,"titleFontWeight":"normal","titleColor":"black","titleBaseline":"alphabetic","titleAlign":"center","titleX":134.3,"titleY":-19.5}}}},
 {"data":{"name":"si"},"mark":{"type":"line","color":"#9a9a5a","strokeWidth":1,"clip":true},"encoding":{"y":{"field":"d","type":"quantitative"},"x":{"field":"v","type":"quantitative"},"order":{"field":"d","type":"quantitative"}}},
 {"data":{"values":[{}]},"mark":{"type":"rule","color":"black","strokeWidth":3,"strokeCap":"square"},"encoding":{"y":{"datum":1721.72,"type":"quantitative"}}},
 {"data":{"values":[{}]},"mark":{"type":"rule","color":"#2F5597","strokeWidth":9,"strokeCap":"square"},"encoding":{"y":{"datum":1728.57,"type":"quantitative"}}},
 {"data":{"values":[{}]},"mark":{"type":"rule","color":"#548235","strokeWidth":9,"strokeCap":"square"},"encoding":{"y":{"datum":1738.09,"type":"quantitative"}}}
]},
{"width":273,"height":871,"resolve":{"scale":{"x":"independent"}},"layer":[
 {"data":{"name":"zr"},"mark":{"type":"line","color":"#FF0000","strokeWidth":2.4,"clip":true},"encoding":{"y":{"field":"d","type":"quantitative","scale":{"domain":[1721.72,1744.95],"reverse":true,"nice":false,"zero":false},"axis":{"orient":"left","domain":true,"domainColor":"#a6a6a6","domainWidth":3,"labels":false,"ticks":false,"grid":false,"title":null}},"x":{"field":"v","type":"quantitative","scale":{"domain":[0,200],"nice":false,"zero":true},"axis":{"orient":"top","offset":73.5,"values":[0,200],"format":",.0f","domain":true,"domainColor":"#EC5A50","domainWidth":14,"domainDash":[256,2000],"domainDashOffset":2253.7,"ticks":false,"tickSize":0,"grid":false,"labelFont":"Lato","labelFontSize":50,"labelLimit":0,"labelColor":"black","labelBaseline":"alphabetic","labelPadding":-64.5,"labelFlush":false,"labelOverlap":false,"labelBound":false,"labelAlign":{"condition":{"test":"datum.value == 0","value":"left"},"value":"right"},"labelOffset":{"condition":{"test":"datum.value == 0","value":0},"value":-15.7},"title":"Zr (ppm)","titleFont":"Lato","titleFontSize":67,"titleFontWeight":"normal","titleColor":"black","titleBaseline":"alphabetic","titleAlign":"center","titleX":131.8,"titleY":-19.5}},"order":{"field":"d","type":"quantitative"}}},
 {"data":{"name":"si2"},"mark":{"type":"line","color":"#0000FF","strokeWidth":2.4,"clip":true},"encoding":{"y":{"field":"d","type":"quantitative"},"x":{"field":"v","type":"quantitative","scale":{"domain":[0,700000],"nice":false,"zero":true},"axis":{"orient":"top","offset":229.5,"values":[0,700000],"format":",.0f","domain":true,"domainColor":"#2A46FF","domainWidth":14,"domainDash":[256,2000],"domainDashOffset":2250.7,"ticks":false,"tickSize":0,"grid":false,"labelFont":"Lato","labelFontSize":50,"labelLimit":0,"labelColor":"black","labelBaseline":"alphabetic","labelPadding":-58.5,"labelFlush":false,"labelOverlap":false,"labelBound":false,"labelAlign":{"condition":{"test":"datum.value == 0","value":"left"},"value":"right"},"labelOffset":{"condition":{"test":"datum.value == 0","value":5},"value":-28.7},"title":"Si (ppm)","titleFont":"Lato","titleFontSize":67,"titleFontWeight":"normal","titleColor":"black","titleBaseline":"alphabetic","titleAlign":"center","titleX":136.8,"titleY":-22.5}},"order":{"field":"d","type":"quantitative"}}},
 {"data":{"values":[{}]},"mark":{"type":"rule","color":"black","strokeWidth":3,"strokeCap":"square"},"encoding":{"y":{"datum":1721.72,"type":"quantitative"}}},
 {"data":{"values":[{}]},"mark":{"type":"rule","color":"#2F5597","strokeWidth":9,"strokeCap":"square"},"encoding":{"y":{"datum":1728.57,"type":"quantitative"}}},
 {"data":{"values":[{}]},"mark":{"type":"rule","color":"#548235","strokeWidth":9,"strokeCap":"square"},"encoding":{"y":{"datum":1738.09,"type":"quantitative"}}}
]},
{"width":271,"height":871,"layer":[
 {"data":{"name":"al"},"mark":{"type":"area","orient":"horizontal","color":"#D2B48C","clip":true},"encoding":{"y":{"field":"d","type":"quantitative","scale":{"domain":[1721.72,1744.95],"reverse":true,"nice":false,"zero":false},"axis":{"orient":"left","domain":true,"domainColor":"#9c8c78","domainWidth":3,"labels":false,"ticks":false,"grid":false,"title":null}},"x":{"field":"v","type":"quantitative","stack":null,"scale":{"domain":[0,100000],"nice":false,"zero":true},"axis":{"orient":"top","offset":73.5,"values":[0,100000],"format":",.0f","domain":true,"domainColor":"#D2B48C","domainWidth":14,"domainDash":[258,2000],"domainDashOffset":2254.7,"ticks":false,"tickSize":0,"grid":false,"labelFont":"Lato","labelFontSize":50,"labelLimit":0,"labelColor":"black","labelBaseline":"alphabetic","labelPadding":-64.5,"labelFlush":false,"labelOverlap":false,"labelBound":false,"labelAlign":{"condition":{"test":"datum.value == 0","value":"left"},"value":"right"},"labelOffset":{"condition":{"test":"datum.value == 0","value":2},"value":-25.7},"title":["Al+Ti+Zr","(ppm)"],"titleFont":"Lato","titleFontSize":67,"titleFontWeight":"normal","titleColor":"black","titleBaseline":"alphabetic","titleAlign":"center","titleX":132.3,"titleY":-95.5,"titleLineHeight":76}}}},
 {"data":{"name":"al"},"mark":{"type":"line","color":"#8f7f6a","strokeWidth":1,"clip":true},"encoding":{"y":{"field":"d","type":"quantitative"},"x":{"field":"v","type":"quantitative"},"order":{"field":"d","type":"quantitative"}}},
 {"data":{"values":[{}]},"mark":{"type":"rule","color":"black","strokeWidth":3,"strokeCap":"square"},"encoding":{"y":{"datum":1721.72,"type":"quantitative"}}},
 {"data":{"values":[{}]},"mark":{"type":"rule","color":"#2F5597","strokeWidth":9,"strokeCap":"square"},"encoding":{"y":{"datum":1728.57,"type":"quantitative"}}},
 {"data":{"values":[{}]},"mark":{"type":"rule","color":"#548235","strokeWidth":9,"strokeCap":"square"},"encoding":{"y":{"datum":1738.09,"type":"quantitative"}}}
]},
{"width":272,"height":871,"layer":[
 {"data":{"name":"efv"},"mark":{"type":"area","orient":"horizontal","color":"#32CD32","clip":true},"encoding":{"y":{"field":"d","type":"quantitative","scale":{"domain":[1721.72,1744.95],"reverse":true,"nice":false,"zero":false},"axis":{"orient":"left","domain":true,"domainColor":"#7f7f7f","domainWidth":3,"labels":false,"ticks":false,"grid":false,"title":null}},"x":{"field":"v","type":"quantitative","stack":null,"scale":{"domain":[0,30],"nice":false,"zero":true},"axis":{"orient":"top","offset":73.5,"values":[0,30],"format":",.0f","domain":true,"domainColor":"#6CCD39","domainWidth":14,"domainDash":[256,2000],"domainDashOffset":2253.7,"ticks":false,"tickSize":0,"grid":false,"labelFont":"Lato","labelFontSize":50,"labelLimit":0,"labelColor":"black","labelBaseline":"alphabetic","labelPadding":-64.5,"labelFlush":false,"labelOverlap":false,"labelBound":false,"labelAlign":{"condition":{"test":"datum.value == 0","value":"left"},"value":"right"},"labelOffset":{"condition":{"test":"datum.value == 0","value":-2},"value":-45.7},"title":"EF V","titleFont":"Lato","titleFontSize":67,"titleFontWeight":"normal","titleColor":"black","titleBaseline":"alphabetic","titleAlign":"center","titleX":94.3,"titleY":-19.5}}}},
 {"data":{"name":"efv"},"mark":{"type":"line","color":"#2d8a2d","strokeWidth":1,"clip":true},"encoding":{"y":{"field":"d","type":"quantitative"},"x":{"field":"v","type":"quantitative"},"order":{"field":"d","type":"quantitative"}}},
 {"data":{"values":[{}]},"mark":{"type":"rule","color":"black","strokeWidth":3,"strokeCap":"square"},"encoding":{"y":{"datum":1721.72,"type":"quantitative"}}},
 {"data":{"values":[{}]},"mark":{"type":"rule","color":"#2F5597","strokeWidth":9,"strokeCap":"square"},"encoding":{"y":{"datum":1728.57,"type":"quantitative"}}},
 {"data":{"values":[{}]},"mark":{"type":"rule","color":"#548235","strokeWidth":9,"strokeCap":"square"},"encoding":{"y":{"datum":1738.09,"type":"quantitative"}}}
]},
{"width":271,"height":871,"layer":[
 {"data":{"name":"efmo"},"mark":{"type":"area","orient":"horizontal","color":"#32CD32","clip":true},"encoding":{"y":{"field":"d","type":"quantitative","scale":{"domain":[1721.72,1744.95],"reverse":true,"nice":false,"zero":false},"axis":{"orient":"left","domain":true,"domainColor":"#3d9a3d","domainWidth":3,"labels":false,"ticks":false,"grid":false,"title":null}},"x":{"field":"v","type":"quantitative","stack":null,"scale":{"domain":[0,400],"nice":false,"zero":true},"axis":{"orient":"top","offset":73.5,"values":[0,400],"format":",.0f","domain":true,"domainColor":"#6CCD39","domainWidth":14,"domainDash":[256,2000],"domainDashOffset":2252.7,"ticks":false,"tickSize":0,"grid":false,"labelFont":"Lato","labelFontSize":50,"labelLimit":0,"labelColor":"black","labelBaseline":"alphabetic","labelPadding":-64.5,"labelFlush":false,"labelOverlap":false,"labelBound":false,"labelAlign":{"condition":{"test":"datum.value == 0","value":"left"},"value":"right"},"labelOffset":{"condition":{"test":"datum.value == 0","value":-3},"value":-27.7},"title":"EF Mo","titleFont":"Lato","titleFontSize":67,"titleFontWeight":"normal","titleColor":"black","titleBaseline":"alphabetic","titleAlign":"center","titleX":102.3,"titleY":-19.5}}}},
 {"data":{"name":"efmo"},"mark":{"type":"line","color":"#2d8a2d","strokeWidth":1,"clip":true},"encoding":{"y":{"field":"d","type":"quantitative"},"x":{"field":"v","type":"quantitative"},"order":{"field":"d","type":"quantitative"}}},
 {"data":{"values":[{}]},"mark":{"type":"rule","color":"black","strokeWidth":3,"strokeCap":"square"},"encoding":{"y":{"datum":1721.72,"type":"quantitative"}}},
 {"data":{"values":[{}]},"mark":{"type":"rule","color":"#2F5597","strokeWidth":9,"strokeCap":"square"},"encoding":{"y":{"datum":1728.57,"type":"quantitative"}}},
 {"data":{"values":[{}]},"mark":{"type":"rule","color":"#548235","strokeWidth":9,"strokeCap":"square"},"encoding":{"y":{"datum":1738.09,"type":"quantitative"}}}
]},
{"width":270,"height":871,"layer":[
 {"data":{"name":"tri"},"mark":{"type":"area","orient":"horizontal"},"encoding":{"y":{"field":"d","type":"quantitative","scale":{"domain":[1721.72,1744.95],"reverse":true,"nice":false,"zero":false},"axis":{"orient":"left","domain":true,"domainColor":"#8c8c8c","domainWidth":3,"labels":false,"ticks":false,"grid":false,"title":null}},"x":{"field":"a","type":"quantitative","stack":null,"scale":{"domain":[0,1],"nice":false,"zero":true},"axis":null},"x2":{"field":"b"},"color":{"field":"type","type":"nominal","scale":{"domain":["R","T"],"range":["#00B0F0","#FF0000"]},"legend":null},"detail":{"field":"tri","type":"nominal"}}},
 {"data":{"name":"seqtext"},"mark":{"type":"text","font":"Lato","fontSize":57,"color":"black","baseline":"alphabetic","align":"center"},"encoding":{"y":{"field":"d","type":"quantitative"},"x":{"datum":0.5,"type":"quantitative","axis":null},"text":{"field":"t","type":"nominal"}}},
 {"data":{"values":[{}]},"mark":{"type":"rule","color":"black","strokeWidth":3},"encoding":{"y":{"datum":1721.72,"type":"quantitative"},"x":{"datum":-0.02,"type":"quantitative","axis":null},"x2":{"datum":1}}},
 {"data":{"values":[{}]},"mark":{"type":"rule","color":"#2F5597","strokeWidth":9},"encoding":{"y":{"datum":1728.57,"type":"quantitative"},"x":{"datum":-0.02,"type":"quantitative","axis":null},"x2":{"datum":1}}},
 {"data":{"values":[{}]},"mark":{"type":"rule","color":"#548235","strokeWidth":9},"encoding":{"y":{"datum":1738.09,"type":"quantitative"},"x":{"datum":-0.02,"type":"quantitative","axis":null},"x2":{"datum":1}}}
]}
]
}
